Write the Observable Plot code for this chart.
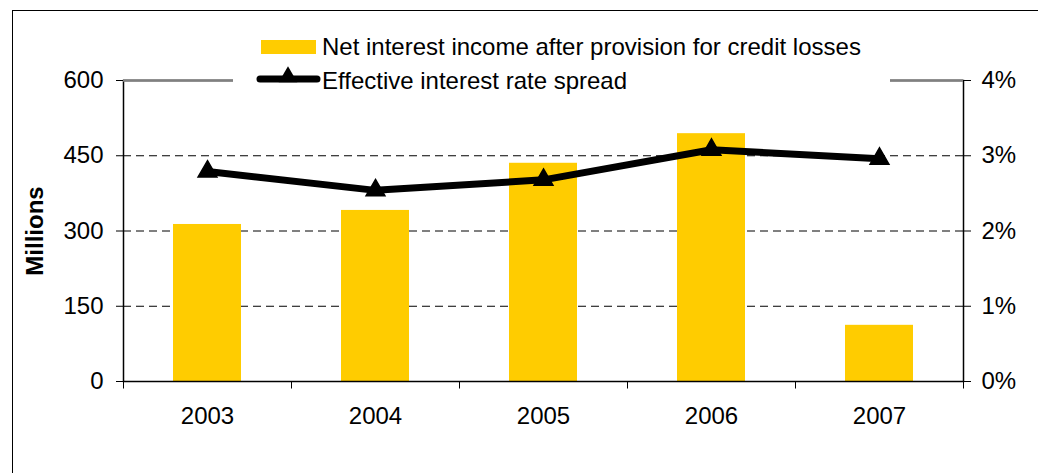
<!DOCTYPE html>
<html>
<head>
<meta charset="utf-8">
<script src="https://cdn.jsdelivr.net/npm/d3@7"></script>
<script src="https://cdn.jsdelivr.net/npm/@observablehq/plot@0.6"></script>
<style>
  html, body { margin: 0; padding: 0; background: #fff; }
  #wrap { position: relative; width: 1038px; height: 473px; font-family: "Liberation Sans", Arial, sans-serif; overflow: hidden; }
  #border { position: absolute; left: 12px; top: 10px; width: 1040px; height: 480px; border-left: 1.5px solid #000; border-top: 1.5px solid #000; }
  #legend { position: absolute; left: 233px; top: 28px; line-height: 0; }
  svg { font-family: "Liberation Sans", Arial, sans-serif; }
</style>
</head>
<body>
<div id="wrap"><div id="border"></div><div id="chart"></div><div id="legend"></div></div>
<script>
const years = ["2003", "2004", "2005", "2006", "2007"];
const netIncome = [313, 341, 435, 494, 112];          // millions
const spread = [2.79, 2.54, 2.68, 3.08, 2.96];       // percent
const leftTicks = [0, 150, 300, 450, 600];
const rightTickLabels = ["0%", "1%", "2%", "3%", "4%"];
const seriesNames = ["Net interest income after provision for credit losses", "Effective interest rate spread"];
const yLabel = "Millions";

const barData = years.map((y, i) => ({year: y, value: netIncome[i]}));
const lineData = years.map((y, i) => ({year: y, pct: spread[i], scaled: spread[i] * 150}));

const chart = Plot.plot({
  width: 1038,
  height: 473,
  marginLeft: 123,
  marginRight: 75,
  marginTop: 80,
  marginBottom: 92,
  style: {fontSize: "24px", fontFamily: "Liberation Sans, Arial, sans-serif", background: "transparent", overflow: "visible"},
  x: {domain: years, type: "band", paddingInner: 0.595, paddingOuter: 0.2975},
  y: {domain: [0, 600]},
  marks: [
    Plot.ruleY([150, 300, 450], {stroke: "#000", strokeDasharray: "8,5", strokeWidth: 1}),
    Plot.barY(barData, {x: "year", y: "value", fill: "#FFCC00"}),
    Plot.frame({stroke: "#000", strokeWidth: 1.5}),
    Plot.ruleY([600], {stroke: "#808080", strokeWidth: 2.5}),
    Plot.axisY({ticks: leftTicks, tickSize: 7, tickPadding: 13, label: null, fontSize: 24, anchor: "left", fill: "#000"}),
    Plot.axisY({ticks: leftTicks, tickSize: 7, tickPadding: 11, label: null, fontSize: 24, anchor: "right",
      tickFormat: d => rightTickLabels[leftTicks.indexOf(d)], fill: "#000"}),
    Plot.axisX({tickSize: 0, tickPadding: 25, label: null, fontSize: 24, fill: "#000"}),
    Plot.ruleX(years, {x: d => d, dx: -84, y1: 0, y2: -15, stroke: "#000", strokeWidth: 1}),
    Plot.ruleX(years.slice(-1), {x: d => d, dx: 84, y1: 0, y2: -15, stroke: "#000", strokeWidth: 1}),
    Plot.line(lineData, {x: "year", y: "scaled", stroke: "#000", strokeWidth: 7}),
    Plot.dot(lineData, {x: "year", y: "scaled", symbol: "triangle", r: 7, fill: "#000", stroke: "#000"}),
    Plot.text([yLabel], {frameAnchor: "left", textAnchor: "middle", rotate: -90, dx: -88, fontWeight: "bold", fontSize: 24, fill: "#000"})
  ]
});
document.getElementById("chart").appendChild(chart);

const lg = d3.select("#legend").append("svg").attr("width", 657).attr("height", 70)
  .style("background", "#fff").style("font-family", "Liberation Sans, Arial, sans-serif");
lg.append("rect").attr("x", 28).attr("y", 12).attr("width", 55).attr("height", 14).attr("fill", "#FFCC00");
lg.append("text").attr("x", 89).attr("y", 27).attr("font-size", 24).attr("fill", "#000").text(seriesNames[0]);
lg.append("line").attr("x1", 27).attr("x2", 84).attr("y1", 51).attr("y2", 51)
  .attr("stroke", "#000").attr("stroke-width", 7).attr("stroke-linecap", "round");
lg.append("path").attr("d", d3.symbol(d3.symbolTriangle, 150)()).attr("transform", "translate(55,49)").attr("fill", "#000");
lg.append("text").attr("x", 89).attr("y", 61).attr("font-size", 24).attr("fill", "#000").text(seriesNames[1]);
</script>
</body>
</html>
